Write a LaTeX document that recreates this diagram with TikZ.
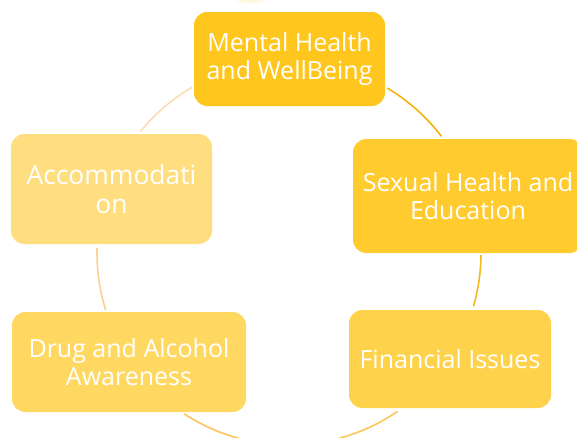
\documentclass[tikz,border=0pt]{standalone}
\usepackage{fontspec}
\newfontfamily\labelfont{Open Sans}
\definecolor{goldA}{HTML}{FFC61E}
\definecolor{goldB}{HTML}{FFCB2F}
\definecolor{goldC}{HTML}{FFD24B}
\definecolor{goldD}{HTML}{FFD862}
\definecolor{goldE}{HTML}{FFDE80}
\definecolor{arcA}{HTML}{F2B40A}
\definecolor{arcB}{HTML}{F4BA1E}
\definecolor{arcC}{HTML}{FDC55A}
\definecolor{arcD}{HTML}{FDD092}
\definecolor{arcE}{HTML}{FCDCB6}
\begin{document}
\begin{tikzpicture}[x=0.75pt,y=0.75pt,
  topic/.style={rounded corners=10pt, draw=none, text=white,
    font=\labelfont\fontsize{18.75pt}{21pt}\selectfont, align=center, inner sep=0pt},
  bigtopic/.style={topic, font=\labelfont\fontsize{19.8pt}{22pt}\selectfont},
  link/.style={line width=1.2pt}]
\useasboundingbox (0,0) rectangle (577,437);
\clip (0,0) rectangle (577,437);
\fill[white] (0,0) rectangle (577,437);
% faint glow at the top edge
\shade[inner color=goldE!55, outer color=white] (250,441) ellipse [x radius=22, y radius=9];
% hub of the cycle
\coordinate (hub) at (289,184);
% topics
\node[topic, fill=goldA, minimum width=143.25pt, minimum height=70.5pt] (mental) at (289.5,378) {Mental Health\\and WellBeing};
\node[topic, fill=goldB, minimum width=172.5pt, minimum height=85.5pt] (sexual) at (468,241) {Sexual Health and\\Education};
\node[topic, fill=goldC, minimum width=151.5pt, minimum height=73.5pt] (money) at (450,78) {Financial Issues};
\node[topic, fill=goldD, minimum width=175.5pt, minimum height=75pt] (drug) at (129,75) {Drug and Alcohol\\Awareness};
\node[bigtopic, fill=goldE, minimum width=150.75pt, minimum height=82.5pt] (home) at (111.5,248) {Accommodati\\on};
% cycle arcs between neighbouring topics
\draw[link, arcA] ([shift={(59.2:192)}]hub) arc[start angle=59.2, end angle=37.4, radius=192];
\draw[link, arcB] ([shift={(-0.6:192)}]hub) arc[start angle=-0.6, end angle=-16.1, radius=192];
\draw[link, arcC] ([shift={(-55.6:192)}]hub) arc[start angle=-55.6, end angle=-123.1, radius=192];
\draw[link, arcD] ([shift={(197.3:192)}]hub) arc[start angle=197.3, end angle=178.5, radius=192];
\draw[link, arcE] ([shift={(140.7:192)}]hub) arc[start angle=140.7, end angle=120.3, radius=192];
\end{tikzpicture}
\end{document}
